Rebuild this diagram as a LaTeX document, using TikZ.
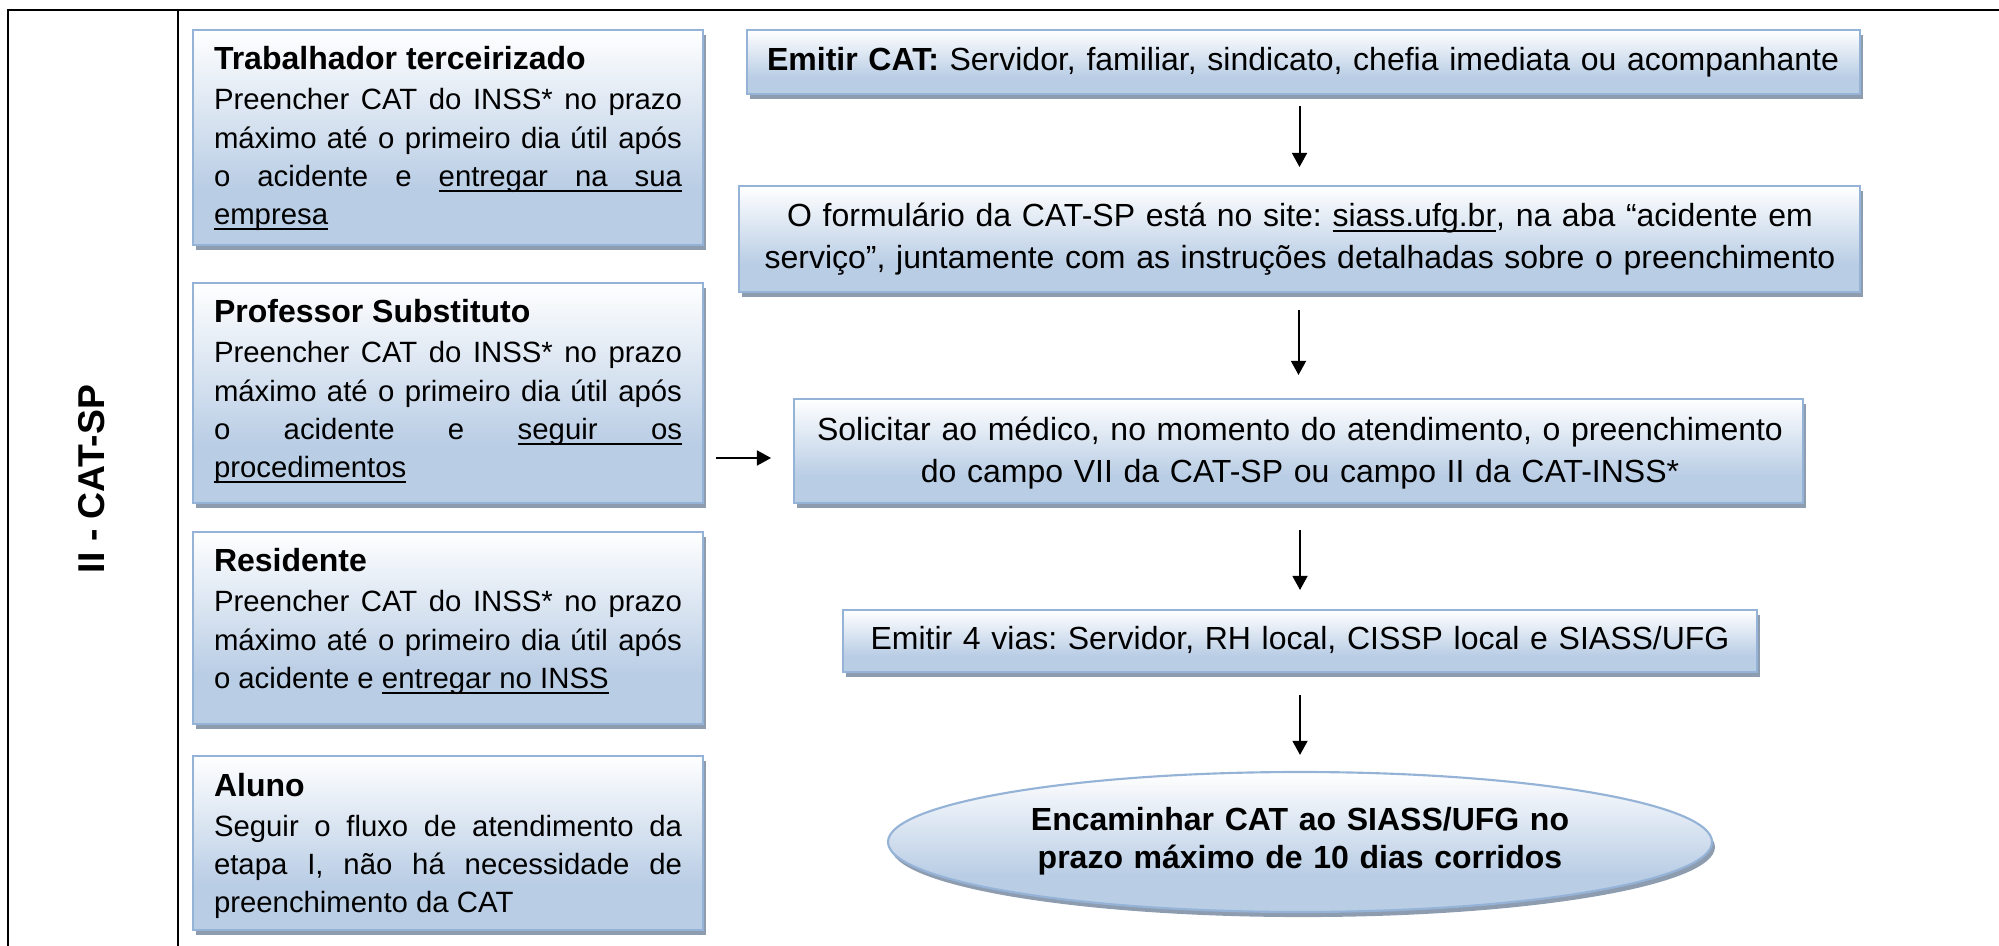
\documentclass[tikz,border=0pt]{standalone}
\usepackage{fontspec}
\setmainfont{Liberation Sans}
\usetikzlibrary{shadows,arrows.meta,shapes.geometric}
\tolerance=10000
\hyphenpenalty=10000
\hbadness=10000
\frenchspacing
\newsavebox{\ulbox}
\newcommand{\ulw}[1]{\sbox{\ulbox}{#1}\rlap{\vrule height -1.3pt depth 2.05pt width \wd\ulbox}\usebox{\ulbox}}
\newcommand{\ulsp}{\leaders\hrule height -1.3pt depth 2.05pt\hskip\fontdimen2\font plus\fontdimen3\font minus\fontdimen4\font\relax}
\definecolor{boxblue}{HTML}{B9CDE5}
\definecolor{boxborder}{HTML}{95B3D7}
\definecolor{boxshadow}{HTML}{8E9CB0}
\pgfdeclareverticalshading{boxshade}{100bp}{color(0bp)=(boxblue); color(38bp)=(boxblue); color(75bp)=(white); color(100bp)=(white)}
\begin{document}
\begin{tikzpicture}[x=0.375pt, y=-0.375pt,
  every node/.style={inner sep=0pt, outer sep=0pt},
  panel/.style={draw=boxborder, line width=0.8pt, shading=boxshade,
    copy shadow={shadow xshift=1.1pt, shadow yshift=-1.9pt, fill=boxshadow, draw=none}},
  tbl/.style={line width=0.8pt, black},
  arr/.style={-{Triangle[length=5.3pt,width=5.6pt]}, line width=0.75pt, black},
  ttl/.style={font=\fontsize{12}{14}\selectfont\bfseries},
  bodytxt/.style={text width=175.5pt, align=justify, font=\fontsize{11}{14.36}\selectfont},
  ctr/.style={text width=425pt, align=center, font=\fontsize{12}{15.4}\selectfont}]
\path[use as bounding box] (0,0) rectangle (1999,946);

% table lines
\draw[tbl] (8,946) -- (8,10) -- (1999,10);
\draw[tbl] (178,10) -- (178,946);
\node[font=\fontsize{14}{16}\selectfont\bfseries, rotate=90] (lab) at (92,479) {II - CAT-SP};

% left boxes
\node[panel, rectangle, minimum width=510*0.375pt, minimum height=215*0.375pt] (b1) at (448,137.5) {};
\node[panel, rectangle, minimum width=510*0.375pt, minimum height=220*0.375pt] (b2) at (448,393) {};
\node[panel, rectangle, minimum width=510*0.375pt, minimum height=192*0.375pt] (b3) at (448,628) {};
\node[panel, rectangle, minimum width=510*0.375pt, minimum height=174*0.375pt] (b4) at (448,843) {};

\node[ttl, anchor=base west] (b1h) at (214,70) {Trabalhador terceirizado};
\node[bodytxt, anchor=base west] (b1t) at (214,110) {Preencher CAT do INSS* no prazo\linebreak máximo até o primeiro dia útil após\linebreak o acidente e \ulw{entregar}\ulsp\ulw{na}\ulsp\ulw{sua}\linebreak \ulw{empresa}};

\node[ttl, anchor=base west] (b2h) at (214,323) {Professor Substituto};
\node[bodytxt, anchor=base west] (b2t) at (214,363) {Preencher CAT do INSS* no prazo\linebreak máximo até o primeiro dia útil após\linebreak o acidente e \ulw{seguir}\ulsp\ulw{os}\linebreak \ulw{procedimentos}};

\node[ttl, anchor=base west] (b3h) at (214,572) {Residente};
\node[bodytxt, anchor=base west] (b3t) at (214,612) {Preencher CAT do INSS* no prazo\linebreak máximo até o primeiro dia útil após\linebreak o acidente e \ulw{entregar}\ulsp\ulw{no}\ulsp\ulw{INSS}};

\node[ttl, anchor=base west] (b4h) at (214,796) {Aluno};
\node[bodytxt, anchor=base west] (b4t) at (214,836) {Seguir o fluxo de atendimento da\linebreak etapa I, não há necessidade de\linebreak preenchimento da CAT};

% right column
\node[panel, rectangle, minimum width=1113*0.375pt, minimum height=64*0.375pt] (e1) at (1303.5,62) {};
\node[panel, rectangle, minimum width=1121*0.375pt, minimum height=106*0.375pt] (e2) at (1299.5,239) {};
\node[panel, rectangle, minimum width=1009*0.375pt, minimum height=104*0.375pt] (e3) at (1298.5,451) {};
\node[panel, rectangle, minimum width=914*0.375pt, minimum height=62*0.375pt] (e4) at (1300,641) {};
\node[panel, ellipse, minimum width=824*0.375pt, minimum height=140*0.375pt] (e5) at (1300,842) {};

\node[ctr, anchor=base] (e1t) at (1303,71) {\textbf{Emitir CAT:} Servidor, familiar, sindicato, chefia imediata ou acompanhante};
\node[ctr, anchor=base] (e2t) at (1300,227) {O formulário da CAT-SP está no site: \ulw{siass.ufg.br}, na aba “acidente em\\serviço”, juntamente com as instruções detalhadas sobre o preenchimento};
\node[ctr, anchor=base] (e3t) at (1300,441) {Solicitar ao médico, no momento do atendimento, o preenchimento\\do campo VII da CAT-SP ou campo II da CAT-INSS*};
\node[ctr, anchor=base] (e4t) at (1300,650) {Emitir 4 vias: Servidor, RH local, CISSP local e SIASS/UFG};
\node[ctr, anchor=base, font=\fontsize{12}{14.25}\selectfont\bfseries] (e5t) at (1300,830) {Encaminhar CAT ao SIASS/UFG no\\prazo máximo de 10 dias corridos};

% connectors
\draw[arr, shorten <=4.5pt, shorten >=7.1pt] (e2.north |- e1.south) -- (e2.north);
\draw[arr, shorten <=6.75pt, shorten >=9pt] (e3.north |- e2.south) -- (e3.north);
\draw[arr, shorten <=10.1pt, shorten >=7.5pt] (e4.north |- e3.south) -- (e4.north);
\draw[arr, shorten <=8.6pt, shorten >=6.4pt] (e5.north |- e4.south) -- (e5.north);
\coordinate (hy) at (0,458);
\draw[arr, shorten <=4.9pt, shorten >=8.6pt] (b2.east |- hy) -- (e3.west |- hy);
\end{tikzpicture}
\end{document}
